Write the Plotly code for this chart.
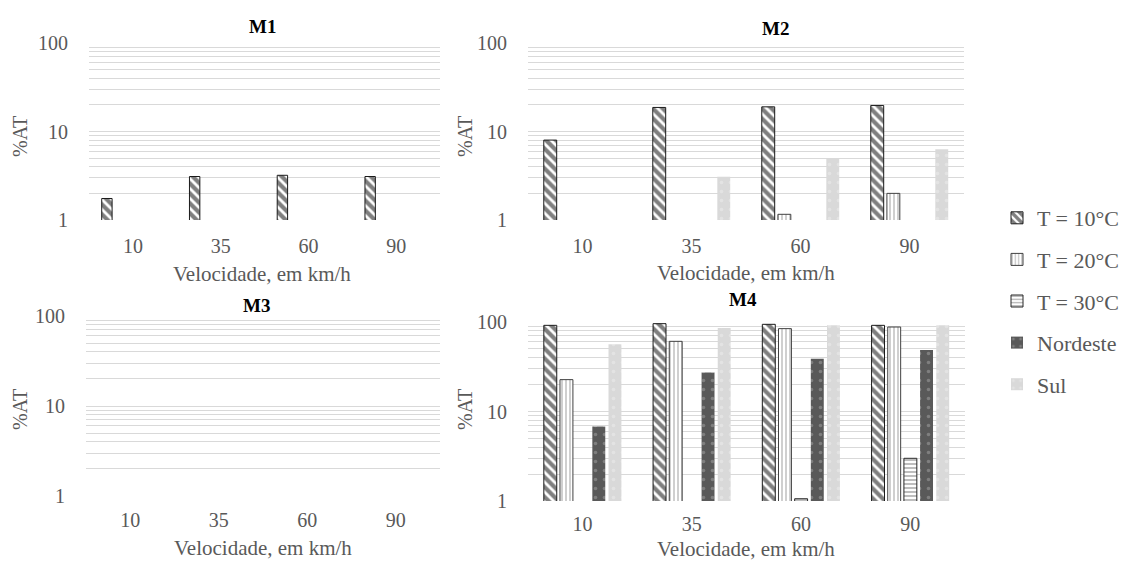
import plotly.graph_objects as go

categories = ["10", "35", "60", "90"]
series_names = ["T = 10°C", "T = 20°C", "T = 30°C", "Nordeste", "Sul"]
panel_titles = ["M1", "M2", "M3", "M4"]

m1_t10 = [1.75, 3.1, 3.2, 3.1]
m1_t20 = [None, None, None, None]
m1_t30 = [None, None, None, None]
m1_ne = [None, None, None, None]
m1_sul = [None, None, None, None]

m2_t10 = [8.0, 18.7, 19.0, 19.7]
m2_t20 = [None, None, 1.16, 2.0]
m2_t30 = [None, None, None, None]
m2_ne = [None, None, None, None]
m2_sul = [None, 3.08, 4.96, 6.3]

m3_t10 = [None, None, None, None]
m3_t20 = [None, None, None, None]
m3_t30 = [None, None, None, None]
m3_ne = [None, None, None, None]
m3_sul = [None, None, None, None]

m4_t10 = [91.8, 95.8, 94.2, 91.8]
m4_t20 = [22.7, 60.8, 84.3, 87.9]
m4_t30 = [None, None, 1.06, 3.0]
m4_ne = [6.8, 27.2, 38.9, 48.7]
m4_sul = [56.3, 85.7, 91.8, 92.0]

panels = [
    [m1_t10, m1_t20, m1_t30, m1_ne, m1_sul],
    [m2_t10, m2_t20, m2_t30, m2_ne, m2_sul],
    [m3_t10, m3_t20, m3_t30, m3_ne, m3_sul],
    [m4_t10, m4_t20, m4_t30, m4_ne, m4_sul],
]

W, H = 1129, 561
FONT = "Liberation Serif"
GRAY = "#595959"
GRID = "#d9d9d9"

styles = [
    dict(color="white", line=dict(color="#1a1a1a", width=1),
         pattern=dict(shape="\\", fgcolor="black", bgcolor="white", size=7, solidity=0.6)),
    dict(color="white", line=dict(color="#404040", width=1),
         pattern=dict(shape="|", fgcolor="#404040", bgcolor="white", size=4, solidity=0.25)),
    dict(color="white", line=dict(color="#262626", width=1),
         pattern=dict(shape="-", fgcolor="#262626", bgcolor="white", size=4, solidity=0.3)),
    dict(color="#595959", line=dict(color="#595959", width=0),
         pattern=dict(shape=".", fgcolor="#a6a6a6", bgcolor="#595959", size=9, solidity=0.12)),
    dict(color="#d9d9d9", line=dict(color="#d9d9d9", width=0),
         pattern=dict(shape=".", fgcolor="#eeeeee", bgcolor="#d9d9d9", size=9, solidity=0.12)),
]

# pixel boxes: (x0, x1, ytop, ybottom)
boxes = [(89, 440, 43, 220), (528, 964, 43, 220), (86, 440, 316, 496), (528, 965, 322, 501)]
tick_lens = [8, 8, 6, 5]

fig = go.Figure()
layout = {}
minor_vals = [2, 3, 4, 5, 6, 7, 8, 9, 20, 30, 40, 50, 60, 70, 80, 90]
for p, (vals, box) in enumerate(zip(panels, boxes)):
    xa = "x" if p == 0 else f"x{p+1}"
    ya = "y" if p == 0 else f"y{p+1}"
    for s in range(5):
        fig.add_trace(go.Bar(
            x=categories, y=vals[s], name=series_names[s],
            marker=styles[s], xaxis=xa, yaxis=ya,
            showlegend=(p == 3), legendgroup=f"g{s}",
        ))
    x0, x1, yt, yb = box
    layout["xaxis" if p == 0 else f"xaxis{p+1}"] = dict(
        domain=[x0 / W, x1 / W], anchor=ya, type="category",
        categoryarray=categories, categoryorder="array", automargin=False,
        showgrid=False, showline=False, ticks="outside", ticklen=tick_lens[p],
        tickcolor="rgba(0,0,0,0)",
        tickfont=dict(family=FONT, size=20, color=GRAY),
    )
    layout["yaxis" if p == 0 else f"yaxis{p+1}"] = dict(
        domain=[1 - yb / H, 1 - yt / H], anchor=xa, type="log", range=[0, 2],
        tickvals=[1, 10, 100], ticktext=["1", "10", "100"], automargin=False,
        showgrid=True, gridcolor=GRID, gridwidth=1, showline=False,
        ticks="outside", ticklen=16, tickcolor="rgba(0,0,0,0)",
        tickfont=dict(family=FONT, size=20, color=GRAY),
        minor=dict(tickmode="array", tickvals=minor_vals, showgrid=True,
                   gridcolor=GRID, gridwidth=1, ticks=""),
        zeroline=False,
    )

annotations = []
title_pos = [(262, 26), (775, 28), (256, 305), (743, 299)]
for t, (x, y) in zip(panel_titles, title_pos):
    annotations.append(dict(text=f"<b>{t}</b>", x=x / W, y=1 - y / H, xref="paper", yref="paper",
                            xanchor="center", yanchor="middle",
                            showarrow=False, font=dict(family=FONT, size=19, color="black")))
xtitle_pos = [(262, 274), (746, 273), (263, 548), (746, 549)]
for x, y in xtitle_pos:
    annotations.append(dict(text="Velocidade, em km/h", x=x / W, y=1 - y / H, xref="paper", yref="paper",
                            xanchor="center", yanchor="middle",
                            showarrow=False, font=dict(family=FONT, size=21, color=GRAY)))
ytitle_pos = [(20, 137), (465, 137), (20, 410), (465, 410)]
for x, y in ytitle_pos:
    annotations.append(dict(text="%AT", x=x / W, y=1 - y / H, xref="paper", yref="paper",
                            xanchor="center", yanchor="middle",
                            showarrow=False, textangle=-90, font=dict(family=FONT, size=20, color=GRAY)))

fig.update_layout(
    width=W, height=H, margin=dict(l=0, r=0, t=0, b=0, autoexpand=False),
    paper_bgcolor="white", plot_bgcolor="white",
    barmode="group", bargap=0.26, bargroupgap=0.2,
    annotations=annotations,
    legend=dict(x=997 / W, y=1 - 197 / H, xanchor="left", yanchor="top",
                font=dict(family=FONT, size=22, color=GRAY),
                tracegroupgap=10, traceorder="grouped", itemwidth=30),
    **layout,
)
fig.write_html("out.html", config={"displayModeBar": False},
               post_script="document.body.style.margin='0';document.body.style.overflow='hidden';")
